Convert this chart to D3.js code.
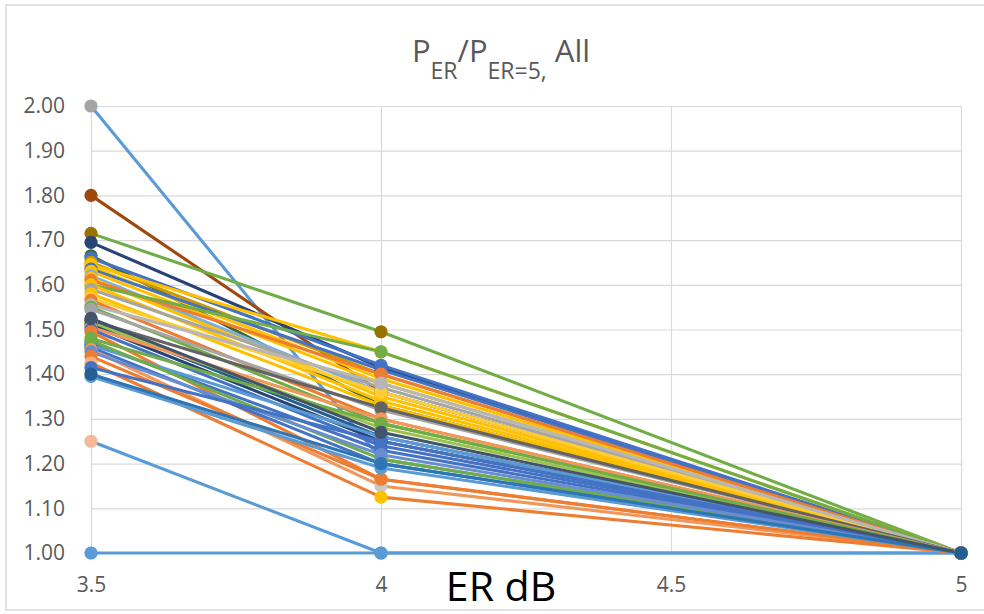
<!DOCTYPE html>
<html>
<head>
<meta charset="utf-8">
<script src="https://cdn.jsdelivr.net/npm/d3@7"></script>
<style>
  html, body { margin: 0; padding: 0; background: #fff; }
  text { font-family: "Open Sans", "DejaVu Sans", sans-serif; }
</style>
</head>
<body>
<script>
// P_ER / P_ER=5 for every run

var w = 984, h = 614;

// x positions (ER in dB)
var erDb = [3.5, 4, 5];
var xTicks = [3.5, 4, 4.5, 5];
var yTicks = [1.0, 1.1, 1.2, 1.3, 1.4, 1.5, 1.6, 1.7, 1.8, 1.9, 2.0];

// one entry per series
var ratioAt35 = [1.00, 1.25, 2.00, 1.80, 1.715, 1.695, 1.665, 1.66, 1.65, 1.645,
                 1.64, 1.635, 1.63, 1.62, 1.615, 1.61, 1.60, 1.60, 1.59, 1.58,
                 1.57, 1.565, 1.555, 1.55, 1.545, 1.52, 1.52, 1.515, 1.51, 1.505,
                 1.50, 1.495, 1.48, 1.47, 1.465, 1.46, 1.475, 1.455, 1.45, 1.44,
                 1.425, 1.415, 1.395, 1.40, 1.525];
var ratioAt40 = [1.00, 1.00, 1.21, 1.36, 1.495, 1.415, 1.33, 1.42, 1.40, 1.45,
                 1.39, 1.41, 1.38, 1.36, 1.35, 1.40, 1.45, 1.34, 1.37, 1.33,
                 1.36, 1.30, 1.38, 1.29, 1.32, 1.325, 1.26, 1.28, 1.25, 1.30,
                 1.24, 1.165, 1.29, 1.23, 1.26, 1.20, 1.21, 1.15, 1.22, 1.165,
                 1.125, 1.25, 1.19, 1.20, 1.27];
var ratioAt50 = [1.00, 1.00, 1.00, 1.00, 1.00, 1.00, 1.00, 1.00, 1.00, 1.00,
                 1.00, 1.00, 1.00, 1.00, 1.00, 1.00, 1.00, 1.00, 1.00, 1.00,
                 1.00, 1.00, 1.00, 1.00, 1.00, 1.00, 1.00, 1.00, 1.00, 1.00,
                 1.00, 1.00, 1.00, 1.00, 1.00, 1.00, 1.00, 1.00, 1.00, 1.00,
                 1.00, 1.00, 1.00, 1.00, 1.00];

var lineColors = ["#5B9BD5", "#5B9BD5", "#5B9BD5", "#9E480E", "#70AD47", "#264478", "#43682B", "#4472C4", "#CC9A00", "#FFC000",
                  "#FFC000", "#4472C4", "#FFC000", "#7CAFDD", "#FFC000", "#ED7D31", "#70AD47", "#FFC000", "#A5A5A5", "#FFC000",
                  "#FFCD33", "#ED7D31", "#B7B7B7", "#70AD47", "#A5A5A5", "#636363", "#255E91", "#9DC34F", "#264478", "#F1975A",
                  "#4472C4", "#ED7D31", "#70AD47", "#4472C4", "#5B9BD5", "#4472C4", "#70AD47", "#F1975A", "#698ED0", "#ED7D31",
                  "#ED7D31", "#4472C4", "#5B9BD5", "#2E75B6", "#44546A"];

// markers whose colour differs from their line (series index -> colour per point)
var markerColors = {
  1: ["#F4B99A", null, null],
  2: ["#A5A5A5", null, null],
  4: ["#997300", "#997300", null],
  37: [null, "#C9C9C9", null],
  40: ["#F4B183", "#FFC000", null],
  43: ["#255E91", null, null],
  44: [null, null, "#255E91"]
};

var plotLeft = 91, plotRight = 961, plotTop = 106, plotBottom = 553;

var x = d3.scaleLinear().domain([3.5, 5]).range([plotLeft, plotRight]);
var y = d3.scaleLinear().domain([1, 2]).range([plotBottom, plotTop]);

var svg = d3.select('body').append('svg')
  .attr('width', w)
  .attr('height', h);

// chart frame
svg.append('rect')
  .attr('x', 6).attr('y', 5)
  .attr('width', 1000).attr('height', 605)
  .attr('fill', '#fff')
  .attr('stroke', '#D9D9D9')
  .attr('stroke-width', 1.5);

// axes, with the ticks stretched into gridlines
var yAxis = svg.append('g')
  .attr('transform', 'translate(' + plotLeft + ',0)')
  .call(d3.axisLeft(y).tickValues(yTicks).tickFormat(d3.format('.2f'))
    .tickSize(-(plotRight - plotLeft)).tickPadding(26));

var xAxis = svg.append('g')
  .attr('transform', 'translate(0,' + plotBottom + ')')
  .call(d3.axisBottom(x).tickValues(xTicks).tickFormat(d3.format(''))
    .tickSize(-(plotBottom - plotTop)).tickPadding(24));

[yAxis, xAxis].forEach(function(g) {
  g.select('.domain').remove();
  g.selectAll('.tick line').attr('stroke', '#D9D9D9').attr('stroke-width', 1.2);
  g.selectAll('.tick text')
    .attr('fill', '#595959')
    .style('font-size', '21px')
    .style('font-family', '"Open Sans", sans-serif');
});

var series = ratioAt35.map(function(v, i) {
  return { i: i, color: lineColors[i], values: [v, ratioAt40[i], ratioAt50[i]] };
});

var line = d3.line()
  .x(function(d, j) { return x(erDb[j]); })
  .y(function(d) { return y(d); });

// lines first, markers on top (as Excel does)
svg.append('g').selectAll('path')
  .data(series)
  .enter().append('path')
    .attr('d', function(d) { return line(d.values); })
    .attr('fill', 'none')
    .attr('stroke', function(d) { return d.color; })
    .attr('stroke-width', 3.1)
    .attr('stroke-linejoin', 'round');

var markerG = svg.append('g');
series.forEach(function(s) {
  markerG.selectAll(null)
    .data(s.values)
    .enter().append('circle')
      .attr('cx', function(d, j) { return x(erDb[j]); })
      .attr('cy', function(d) { return y(d); })
      .attr('r', 6.6)
      .attr('fill', function(d, j) {
        var m = markerColors[s.i];
        return (m && m[j]) ? m[j] : s.color;
      });
});

// title with subscripts
var title = svg.append('text')
  .attr('x', 501)
  .attr('y', 62)
  .attr('text-anchor', 'middle')
  .attr('fill', '#595959')
  .style('font-size', '31px');
title.append('tspan').text('P');
title.append('tspan').attr('dy', 17).style('font-size', '23px').text('ER');
title.append('tspan').attr('dy', -17).text('/P');
title.append('tspan').attr('dy', 17).style('font-size', '23px').text('ER=5,');
title.append('tspan').attr('dy', -17).text(' All');

// axis title
svg.append('text')
  .attr('x', 501)
  .attr('y', 601)
  .attr('text-anchor', 'middle')
  .attr('fill', '#000')
  .style('font-size', '41px')
  .text('ER dB');
</script>
</body>
</html>
